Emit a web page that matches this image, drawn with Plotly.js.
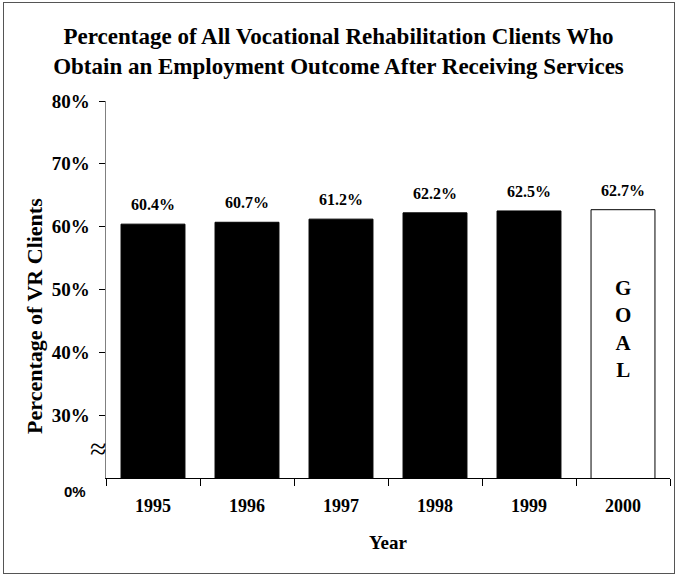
<!DOCTYPE html>
<html>
<head>
<meta charset="utf-8">
<script src="https://cdn.plot.ly/plotly-3.0.1.min.js"></script>
<style>
html,body{margin:0;padding:0;background:#fff;}
#wrap{position:relative;width:677px;height:575px;}
#chart{position:absolute;left:0;top:0;width:677px;height:575px;}
#frame{position:absolute;left:3px;top:2px;width:670px;height:570px;border:1px solid #555;pointer-events:none;}
</style>
</head>
<body>
<div id="wrap"><div id="chart"></div><div id="frame"></div></div>
<script>
const years = ['1995','1996','1997','1998','1999','2000'];
const values = [60.4, 60.7, 61.2, 62.2, 62.5, 62.7];
const valueLabels = ['60.4%','60.7%','61.2%','62.2%','62.5%','62.7%'];
const yTickVals = [30, 40, 50, 60, 70, 80];
const yTickText = ['30%','40%','50%','60%','70%','80%'];
const goalYear = '2000';

const serif = 'Liberation Serif';
const sans = 'Liberation Sans';

const barColors = years.map(y => y === goalYear ? '#ffffff' : '#000000');

const trace = {
  type: 'bar',
  x: years,
  y: values,
  marker: {color: barColors, line: {color: '#000000', width: 1}},
  hoverinfo: 'skip'
};

const annotations = years.map((yr, i) => ({
  x: i, y: values[i], xref: 'x', yref: 'y',
  text: '<b>' + valueLabels[i] + '</b>',
  showarrow: false, yanchor: 'bottom', yshift: 9,
  font: {family: serif, size: 16, color: '#000'}
}));

annotations.push({
  x: years.indexOf(goalYear), y: 0.395, xref: 'x', yref: 'paper',
  text: '<b>G<br>O<br>A<br>L</b>', showarrow: false,
  yanchor: 'middle', xanchor: 'center',
  font: {family: serif, size: 21, color: '#000'}
});
annotations.push({
  x: 0, y: 0.43, xref: 'paper', yref: 'paper', xshift: -71,
  text: '<b>Percentage of VR Clients</b>', showarrow: false,
  textangle: -90, xanchor: 'center', yanchor: 'middle',
  font: {family: serif, size: 22, color: '#000'}
});
annotations.push({
  x: 0, y: 0, xref: 'paper', yref: 'paper', xshift: -31, yshift: -13,
  text: '<b>0%</b>', showarrow: false, xanchor: 'center', yanchor: 'middle',
  font: {family: sans, size: 15, color: '#000'}
});
annotations.push({
  x: 0, y: 0, xref: 'paper', yref: 'paper', xshift: -8, yshift: 30,
  text: '≈', showarrow: false, xanchor: 'center', yanchor: 'middle',
  font: {family: serif, size: 30, color: '#000'}
});

const layout = {
  width: 677, height: 575,
  margin: {l: 106, r: 7, t: 101, b: 97},
  paper_bgcolor: '#ffffff', plot_bgcolor: '#ffffff',
  showlegend: false,
  bargap: 0.32,
  title: {
    text: '<b>Percentage of All Vocational Rehabilitation Clients Who<br>Obtain an Employment Outcome After Receiving Services</b>',
    x: 0.5, xref: 'container', xanchor: 'center',
    y: 0.924, yref: 'container', yanchor: 'middle',
    font: {family: serif, size: 23, color: '#000'}
  },
  xaxis: {
    type: 'category',
    showline: true, linecolor: '#000', linewidth: 1,
    ticks: 'outside', ticklen: 7, tickcolor: '#000', tickson: 'boundaries',
    tickfont: {family: serif, size: 18, color: '#000'},
    tickprefix: '<b>', ticksuffix: '</b>',
    ticklabelstandoff: 11,
    showgrid: false, zeroline: false,
    title: {text: '<b>Year</b>', font: {family: serif, size: 19, color: '#000'}, standoff: 21}
  },
  yaxis: {
    range: [20, 80],
    tickvals: yTickVals, ticktext: yTickText.map(t => '<b>' + t + '</b>'),
    showline: true, linecolor: '#808080', linewidth: 1.5,
    ticks: 'outside', ticklen: 6, tickcolor: '#000',
    tickfont: {family: serif, size: 19, color: '#000'},
    ticklabelstandoff: 5,
    showgrid: false, zeroline: false
  },
  annotations: annotations
};

Plotly.newPlot('chart', [trace], layout, {displayModeBar: false, staticPlot: true});
</script>
</body>
</html>
